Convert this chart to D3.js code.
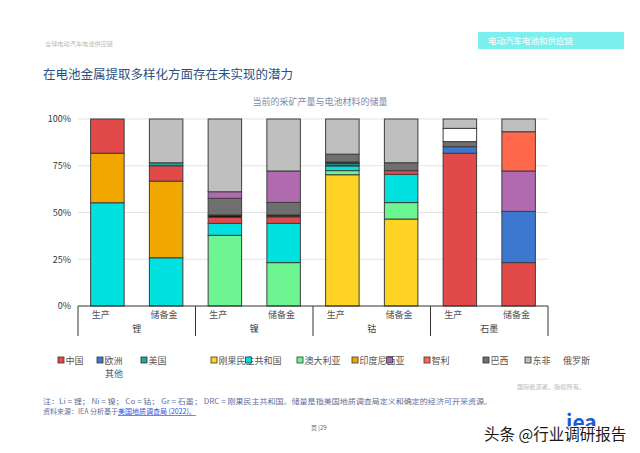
<!DOCTYPE html>
<html><head><meta charset="utf-8">
<script src="https://cdn.jsdelivr.net/npm/d3@7"></script>
<style>
html,body{margin:0;padding:0;background:#fff;}
text{font-family:"Noto Sans CJK SC","Liberation Sans",sans-serif;}
</style></head>
<body><svg id="c" width="640" height="453"></svg>
<script>
// ---- data ----
const barLabels = ["生产","储备金","生产","储备金","生产","储备金","生产","储备金"];
const groupLabels = ["锂","镍","钴","石墨"];
const yTicks = [0,25,50,75,100];
// stack order (bottom -> top)
const seriesKeys = ["yellow","green","cyan","orange","red","blue","teal","black","darkgray","purple","orangered","white","lightgray"];
const yellow    = [0, 0, 0, 0, 70.2, 46.5, 0, 0];
const green     = [0, 0, 37.8, 23.2, 2.2, 8.8, 0, 0];
const cyan      = [55.2, 25.8, 6.4, 21.0, 2.5, 15.1, 0, 0];
const orange    = [26.5, 41.0, 0, 0, 0, 0, 0, 0];
const red       = [18.3, 8.2, 3.2, 3.5, 0.4, 2.0, 81.7, 23.2];
const blue      = [0, 0, 0, 0, 0, 0, 3.5, 27.4];
const teal      = [0, 1.6, 0, 0, 0.9, 0, 0, 0];
const black     = [0, 0, 1.3, 1.0, 0.8, 0, 0, 0];
const darkgray  = [0, 0, 8.9, 6.7, 4.2, 4.2, 2.7, 0];
const purple    = [0, 0, 3.5, 16.8, 0, 0, 0, 21.6];
const orangered = [0, 0, 0, 0, 0, 0, 0, 21.0];
const white     = [0, 0, 0, 0, 0, 0, 7.1, 0];
const lightgray = [0, 23.4, 38.9, 27.8, 18.8, 23.4, 5.0, 6.8];
const legendLabels = ["中国","欧洲","美国","刚果民主共和国","","澳大利亚","印度尼西亚","","智利","巴西","东非","俄罗斯"];
const legendKeys   = ["red","blue","teal","yellow","cyan","green","orange","purple","orangered","darkgray","lightgray",null];
const legendExtra = "其他";

// ---- styles ----
const colors = {yellow:"#ffd324",green:"#6cf590",cyan:"#00e1e0",orange:"#f0a800",red:"#e24a4a",
  blue:"#3d78d0",teal:"#1aa89c",black:"#151515",darkgray:"#6f6f6f",purple:"#b06ab0",
  orangered:"#ff684a",white:"#ffffff",lightgray:"#bfbfbf"};
const legendX = [61,100,144,214,248.5,300,355,389.5,427,486,528,563];

const seriesData = {yellow,green,cyan,orange,red,blue,teal,black,darkgray,purple,orangered,white,lightgray};
const table = barLabels.map((l,i)=>{const o={idx:i}; seriesKeys.forEach(k=>o[k]=seriesData[k][i]); return o;});

const svg = d3.select("#c");
const x = d3.scaleBand().domain(d3.range(barLabels.length)).range([78,548]).paddingInner(0.43).paddingOuter(0.215);
const y = d3.scaleLinear().domain([0,100]).range([306,119]);

// header
svg.append("text").attr("x",45).attr("y",45.5).attr("font-size",6.2).attr("fill","#bbb").text("全球电动汽车电池供应链");
svg.append("rect").attr("x",478).attr("y",32).attr("width",146).attr("height",17).attr("fill","#7eefef");
svg.append("text").attr("x",488).attr("y",44).attr("font-size",8.5).attr("fill","#fff").text("电动汽车电池和供应链");
svg.append("text").attr("x",43).attr("y",79).attr("font-size",12.5).attr("fill","#2d4f80").text("在电池金属提取多样化方面存在未实现的潜力");
svg.append("text").attr("x",320).attr("y",105).attr("text-anchor","middle").attr("font-size",9).attr("fill","#7b8bab").text("当前的采矿产量与电池材料的储量");

// grid
svg.append("g").selectAll("line").data(yTicks.filter(t=>t>0)).join("line")
  .attr("x1",78).attr("x2",548).attr("y1",d=>y(d)).attr("y2",d=>y(d)).attr("stroke","#e3e3e3").attr("stroke-width",1);
// y axis
const ya = svg.append("g").attr("transform","translate(71,0)")
  .call(d3.axisLeft(y).tickValues(yTicks).tickFormat(d=>d+"%").tickSize(0).tickPadding(0));
ya.select(".domain").remove();
ya.selectAll("text").attr("font-family","Liberation Sans, Arial, sans-serif").attr("font-size",9).attr("fill","#333");

// bars
const stack = d3.stack().keys(seriesKeys)(table);
const gBars = svg.append("g");
stack.forEach(s=>{
  gBars.append("g").selectAll("rect").data(s.filter(d=>d[1]-d[0]>0)).join("rect")
    .attr("x",d=>x(d.data.idx)).attr("width",x.bandwidth())
    .attr("y",d=>y(d[1])).attr("height",d=>y(d[0])-y(d[1]))
    .attr("fill",colors[s.key]).attr("stroke","#3d3d3d").attr("stroke-width",1);
});

// x axis
svg.append("line").attr("x1",78).attr("x2",548).attr("y1",306).attr("y2",306).attr("stroke","#333").attr("stroke-width",1);
const step = x.step();
const gEdge = d3.range(groupLabels.length+1).map(k=>x.range()[0]+k*2*step);
svg.append("g").selectAll("line").data(gEdge).join("line")
  .attr("x1",d=>d).attr("x2",d=>d).attr("y1",306).attr("y2",336).attr("stroke","#333").attr("stroke-width",1);
svg.append("g").selectAll("text").data(barLabels).join("text")
  .attr("x",(d,i)=>x(i)+1).attr("y",318).attr("font-size",9).attr("fill","#555").text(d=>d);
svg.append("g").selectAll("text").data(groupLabels).join("text")
  .attr("x",(d,i)=>(gEdge[i]+gEdge[i+1])/2).attr("y",332).attr("text-anchor","middle").attr("font-size",9).attr("fill","#444").text(d=>d);

// legend
const lg = svg.append("g");
legendKeys.forEach((k,i)=>{
  if(k) lg.append("rect").attr("x",legendX[i]-3).attr("y",357).attr("width",6).attr("height",6)
        .attr("fill",colors[k]).attr("stroke","#333").attr("stroke-width",0.8);
  if(legendLabels[i]) lg.append("text").attr("x",legendX[i]+(k?4.5:0)).attr("y",363.5).attr("font-size",9).attr("fill","#555").text(legendLabels[i]);
});
lg.append("text").attr("x",105).attr("y",377).attr("font-size",9).attr("fill","#555").text(legendExtra);

// footer
svg.append("text").attr("x",517).attr("y",388.5).attr("font-size",6.2).attr("fill","#bbb").text("国际能源署。版权所有。");
svg.append("text").attr("x",43).attr("y",403.5).attr("font-size",7).attr("fill","#5d6f99")
  .attr("textLength",449).attr("lengthAdjust","spacingAndGlyphs")
  .text("注：Li = 锂； Ni = 镍； Co = 钴； Gr = 石墨； DRC = 刚果民主共和国。储量是指美国地质调查局定义和确定的经济可开采资源。");
const f2 = svg.append("text").attr("x",43).attr("y",414).attr("font-size",7).attr("fill","#5d6f99");
f2.append("tspan").text("资料来源：IEA 分析基于");
f2.append("tspan").attr("fill","#3050e0").attr("text-decoration","underline").text("美国地质调查局 (2022)。");
svg.append("text").attr("x",311).attr("y",430).attr("font-size",6).attr("fill","#666").text("页 |29");
svg.append("text").attr("x",566).attr("y",430).attr("font-size",21).attr("font-weight","bold").attr("fill","#1d5bd6")
  .attr("font-family","Liberation Sans, Arial, sans-serif").text("iea");
svg.append("text").attr("x",484).attr("y",440).attr("font-size",15.5).attr("fill","#1a1a1a")
  .attr("stroke","#fff").attr("stroke-width",2).attr("paint-order","stroke").text("头条 @行业调研报告");
</script></body></html>
